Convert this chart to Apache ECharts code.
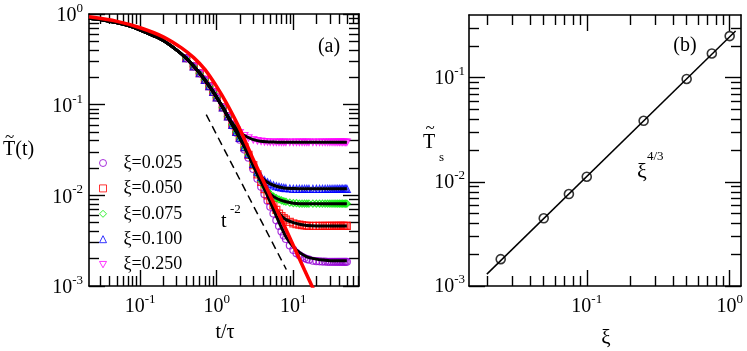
<!DOCTYPE html>
<html><head><meta charset="utf-8">
<script src="https://cdn.jsdelivr.net/npm/echarts@6/dist/echarts.min.js"></script>
<style>html,body{margin:0;padding:0;background:#fff}#c{width:747px;height:351px}</style>
</head><body><div id="c"></div>
<script>
const FONT = '"Liberation Serif","Times New Roman",serif';

// ---------- Panel (a) data ----------
const seriesNames = ['ξ=0.025', 'ξ=0.050', 'ξ=0.075', 'ξ=0.100', 'ξ=0.250'];
const seriesColors = ['#9400d3', '#ff0000', '#00ee00', '#0000ff', '#ff00ff'];
const tData = [0.4,0.5,0.6,0.7,0.8,0.9,1.0,1.2,1.4,1.6,1.8,2.0,2.3,2.6,3.0,3.4,3.8,4.2,4.6,5.0,5.5,6.0,6.5,7.0,7.5,8.0,9,10,11,12,13,14,15,16,18,20,22,24,26,28,30,32,34,36,38,40,42,44,46,48,50];
const m025 = [0.325,0.265,0.222,0.188,0.16,0.138,0.12,0.093,0.074,0.059,0.049,0.041,0.032,0.026,0.0195,0.0152,0.0124,0.0103,0.0087,0.0075,0.0063,0.0053,0.0046,0.0040,0.0036,0.0033,0.0028,0.0025,0.0023,0.00218,0.0021,0.00203,0.00198,0.00195,0.0019,0.00188,0.00187,0.00186,0.00186,0.00185,0.00185,0.00185,0.00185,0.00185,0.00185,0.00185,0.00185,0.00185,0.00185,0.00185,0.00185];
const m050 = [0.325,0.265,0.222,0.188,0.16,0.138,0.12,0.093,0.074,0.060,0.050,0.043,0.034,0.028,0.0215,0.0170,0.0141,0.0117,0.0100,0.0089,0.0078,0.0069,0.0063,0.0059,0.0056,0.0054,0.0051,0.0049,0.0048,0.00475,0.0047,0.00465,0.00462,0.0046,0.0046,0.0046,0.0046,0.0046,0.0046,0.0046,0.0046,0.0046,0.0046,0.0046,0.0046,0.0046,0.0046,0.0046,0.0046,0.0046,0.0046];
const m075 = [0.325,0.265,0.222,0.188,0.16,0.138,0.12,0.093,0.074,0.060,0.050,0.043,0.034,0.028,0.0216,0.0172,0.0145,0.0125,0.0111,0.0103,0.0097,0.0093,0.0090,0.0088,0.0086,0.0085,0.0083,0.0082,0.0082,0.0081,0.0081,0.0081,0.0081,0.0081,0.0081,0.0081,0.0081,0.0081,0.0081,0.0081,0.0081,0.0081,0.0081,0.0081,0.0081,0.0081,0.0081,0.0081,0.0081,0.0081,0.0081];
const m100 = [0.325,0.265,0.222,0.188,0.16,0.138,0.12,0.093,0.074,0.060,0.050,0.043,0.034,0.0285,0.0222,0.0183,0.0160,0.0147,0.0139,0.0134,0.0129,0.0126,0.0124,0.0122,0.0121,0.0120,0.0119,0.0118,0.0118,0.0118,0.0118,0.0118,0.0118,0.0118,0.0118,0.0118,0.0118,0.0118,0.0118,0.0118,0.0118,0.0118,0.0118,0.0118,0.0118,0.0118,0.0118,0.0118,0.0118,0.0118,0.0118];
const m250 = [0.325,0.265,0.222,0.188,0.16,0.138,0.12,0.093,0.074,0.061,0.053,0.049,0.0455,0.043,0.041,0.040,0.0394,0.039,0.0388,0.0386,0.0385,0.0384,0.0384,0.0384,0.0384,0.0384,0.0384,0.0384,0.0384,0.0384,0.0384,0.0384,0.0384,0.0384,0.0384,0.0384,0.0384,0.0384,0.0384,0.0384,0.0384,0.0384,0.0384,0.0384,0.0384,0.0384,0.0384,0.0384,0.0384,0.0384,0.0384];
const markerValues = [m025, m050, m075, m100, m250];

// black fitted curves
const fitEarlyT = [0.0215,0.03,0.05,0.07,0.1,0.15,0.2,0.3,0.4,0.5,0.6,0.8,1.0,1.2];
const fitEarlyV = [0.90,0.87,0.80,0.745,0.665,0.575,0.51,0.40,0.325,0.265,0.222,0.16,0.12,0.093];
const fitLateT = [1.5,2.0,2.5,3.0,3.5,4.0,4.5,5.0,6.0,7.0,8.0,10,12,15,20,25,30,40,50];
const f025 = [0.066,0.043,0.030,0.0215,0.0162,0.0128,0.0103,0.0084,0.0059,0.0044,0.0035,0.0027,0.00235,0.0021,0.00198,0.00193,0.0019,0.0019,0.0019];
const f050 = [0.066,0.043,0.030,0.0215,0.0163,0.0131,0.0107,0.0090,0.0070,0.0059,0.0054,0.0050,0.0048,0.00465,0.0046,0.0046,0.0046,0.0046,0.0046];
const f075 = [0.066,0.043,0.030,0.0216,0.0166,0.0135,0.0114,0.0103,0.0093,0.0088,0.0085,0.0082,0.0081,0.0081,0.0081,0.0081,0.0081,0.0081,0.0081];
const f100 = [0.066,0.043,0.0305,0.0222,0.0176,0.0153,0.0141,0.0134,0.0126,0.0122,0.0120,0.0119,0.0118,0.0118,0.0118,0.0118,0.0118,0.0118,0.0118];
const f250 = [0.067,0.050,0.0440,0.0412,0.0399,0.0392,0.0389,0.0387,0.0386,0.0385,0.0385,0.0385,0.0385,0.0385,0.0385,0.0385,0.0385,0.0385,0.0385];
const fitLateValues = [f025, f050, f075, f100, f250];

// red curve
const redT = [0.0215,0.05,0.1,0.2,0.35,0.5,0.7,1.0,1.34,2.0,3.0,4.0,5.0,7.0,10,14,17.5,20];
const redV = [0.93,0.83,0.705,0.56,0.42,0.33,0.245,0.158,0.104,0.054,0.0248,0.0148,0.0099,0.0054,0.0028,0.0015,0.0010,0.00079];

// dashed t^-2 guide
const dashT = [0.73, 8.1];
const dashV = [0.0776, 0.00152];

// ---------- Panel (b) data ----------
const xi = [0.025, 0.05, 0.075, 0.1, 0.25, 0.5, 0.75, 1.0];
const Ts = [0.00181, 0.00447, 0.00764, 0.0112, 0.0386, 0.0972, 0.171, 0.251];
const fitXi = [0.02, 1.1];
const fitTs = [0.0013, 0.281];

// ---------- ticks ----------
const xMajorA = [0.1, 1, 10];
const xMinorA = [0.03,0.04,0.05,0.06,0.07,0.08,0.09,0.2,0.3,0.4,0.5,0.6,0.7,0.8,0.9,2,3,4,5,6,7,8,9,20,30,40,50,60,70];
const yMajorA = [0.001, 0.01, 0.1, 1];
const yMinorA = [0.002,0.003,0.004,0.005,0.006,0.007,0.008,0.009,0.02,0.03,0.04,0.05,0.06,0.07,0.08,0.09,0.2,0.3,0.4,0.5,0.6,0.7,0.8,0.9];
const xMajorB = [0.1, 1];
const xMinorB = [0.02,0.03,0.04,0.05,0.06,0.07,0.08,0.09,0.2,0.3,0.4,0.5,0.6,0.7,0.8,0.9];
const yMajorB = [0.001, 0.01, 0.1];
const yMinorB = [0.002,0.003,0.004,0.005,0.006,0.007,0.008,0.009,0.02,0.03,0.04,0.05,0.06,0.07,0.08,0.09,0.2,0.3];

const rangeA = {x: [0.0215, 72], y: [0.001, 1]};
const rangeB = {x: [0.015, 1.2], y: [0.001, 0.4]};

const richLabel = {
  b: {fontFamily: FONT, fontSize: 20, lineHeight: 20, verticalAlign: 'bottom', color: '#000'},
  s: {fontFamily: FONT, fontSize: 13, lineHeight: 13, verticalAlign: 'bottom', padding: [0, 0, 11, 0], color: '#000'}
};
function powLabel(v) {
  const e = Math.round(Math.log10(v));
  return '{b|10}{s|' + e + '}';
}

function logAxes(grid, dim, range, majors, minors, labelCfg) {
  const pos = dim === 'x' ? ['bottom', 'top'] : ['left', 'right'];
  const list = [];
  pos.forEach(function (p, pi) {
    [majors, minors].forEach(function (vals, k) {
      const showLabel = pi === 0 && k === 0;
      list.push({
        type: 'log', logBase: 10, gridIndex: grid, position: p,
        min: range[0], max: range[1],
        axisLine: {show: k === 0, lineStyle: {color: '#000', width: 1.6}},
        axisTick: {show: true, inside: true, length: k === 0 ? 16 : 10, customValues: vals,
                   lineStyle: {color: '#000', width: 1.4}},
        minorTick: {show: false},
        splitLine: {show: false},
        axisLabel: showLabel ? Object.assign({show: true, customValues: vals, formatter: powLabel, rich: richLabel}, labelCfg)
                             : {show: false}
      });
    });
  });
  return list;
}

const xAxes = [].concat(
  logAxes(0, 'x', rangeA.x, xMajorA, xMinorA, {margin: 11}),
  logAxes(1, 'x', rangeB.x, xMajorB, xMinorB, {margin: 11})
);
const yAxes = [].concat(
  logAxes(0, 'y', rangeA.y, yMajorA, yMinorA, {margin: 6, padding: [4, 0, 0, 0]}),
  logAxes(1, 'y', rangeB.y, yMajorB, yMinorB, {margin: 4, padding: [2, 0, 0, 0]})
);

const symbols = ['circle', 'rect', 'diamond', 'triangle', 'path://M0,0L10,0L5,9Z'];

const series = [];
seriesNames.forEach(function (name, i) {
  series.push({
    name: name, type: 'scatter', xAxisIndex: 0, yAxisIndex: 0,
    symbol: symbols[i], symbolSize: 7, symbolKeepAspect: true,
    itemStyle: {color: 'rgba(0,0,0,0)', borderColor: seriesColors[i], borderWidth: 1.2},
    data: tData.map(function (t, j) { return [t, markerValues[i][j]]; }),
    z: 2, silent: true
  });
});
fitLateValues.forEach(function (vals, i) {
  const d = fitEarlyT.map(function (t, j) { return [t, fitEarlyV[j]]; })
    .concat(fitLateT.map(function (t, j) { return [t, vals[j]]; }));
  series.push({
    type: 'line', xAxisIndex: 0, yAxisIndex: 0, data: d, symbol: 'none', smooth: 0.3,
    lineStyle: {color: '#000', width: 3}, z: 3, silent: true
  });
});
series.push({
  type: 'line', xAxisIndex: 0, yAxisIndex: 0, symbol: 'none', smooth: 0.3,
  data: redT.map(function (t, j) { return [t, redV[j]]; }),
  lineStyle: {color: '#ff0000', width: 3.5}, z: 4, silent: true
});
series.push({
  type: 'line', xAxisIndex: 0, yAxisIndex: 0, symbol: 'none',
  data: dashT.map(function (t, j) { return [t, dashV[j]]; }),
  lineStyle: {color: '#000', width: 1.5, type: [8, 5]}, z: 4, silent: true
});
// panel (b)
series.push({
  type: 'line', xAxisIndex: 4, yAxisIndex: 4, symbol: 'none',
  data: fitXi.map(function (x, j) { return [x, fitTs[j]]; }),
  lineStyle: {color: '#000', width: 1.5}, z: 3, silent: true
});
series.push({
  type: 'scatter', xAxisIndex: 4, yAxisIndex: 4, symbol: 'circle', symbolSize: 9,
  itemStyle: {color: 'rgba(0,0,0,0)', borderColor: '#000', borderWidth: 1.6},
  data: xi.map(function (x, j) { return [x, Ts[j]]; }), z: 4, silent: true
});

function txt(x, y, s, size, align) {
  return {type: 'text', x: x, y: y, silent: true,
    style: {text: s, font: size + 'px ' + FONT, fill: '#000', align: align || 'center', verticalAlign: 'middle'}};
}

const option = {
  animation: false,
  backgroundColor: '#fff',
  grid: [
    {left: 89, top: 14, width: 270, height: 272, outerBoundsMode: 'none'},
    {left: 469, top: 15, width: 272, height: 271, outerBoundsMode: 'none'}
  ],
  xAxis: xAxes,
  yAxis: yAxes,
  legend: {
    data: seriesNames, orient: 'vertical', left: 99, top: 154, padding: 0,
    itemWidth: 7, itemHeight: 7, itemGap: 7.4, selectedMode: false,
    itemStyle: {borderWidth: 1},
    textStyle: {fontFamily: FONT, fontSize: 18, lineHeight: 18, color: '#000', padding: [0, 0, 0, 12]}
  },
  graphic: [
    txt(329, 46.5, '(a)', 20),
    txt(685, 46, '(b)', 20),
    txt(221, 221.5, 't', 20, 'left'),
    txt(230, 210, '-2', 13, 'left'),
    txt(637, 172, 'ξ', 22, 'left'),
    txt(647, 157, '4/3', 13, 'left'),
    txt(225, 333, 't/τ', 20),
    txt(606, 338, 'ξ', 21),
    txt(3, 150, 'T(t)', 20, 'left'),
    txt(9.5, 138, '~', 17),
    txt(423, 143, 'T', 20, 'left'),
    txt(430, 129, '~', 17),
    txt(439, 158, 's', 13, 'left')
  ],
  series: series
};
const chart = echarts.init(document.getElementById('c'), null, {renderer: 'canvas'});
chart.setOption(option);
</script>
</body></html>
